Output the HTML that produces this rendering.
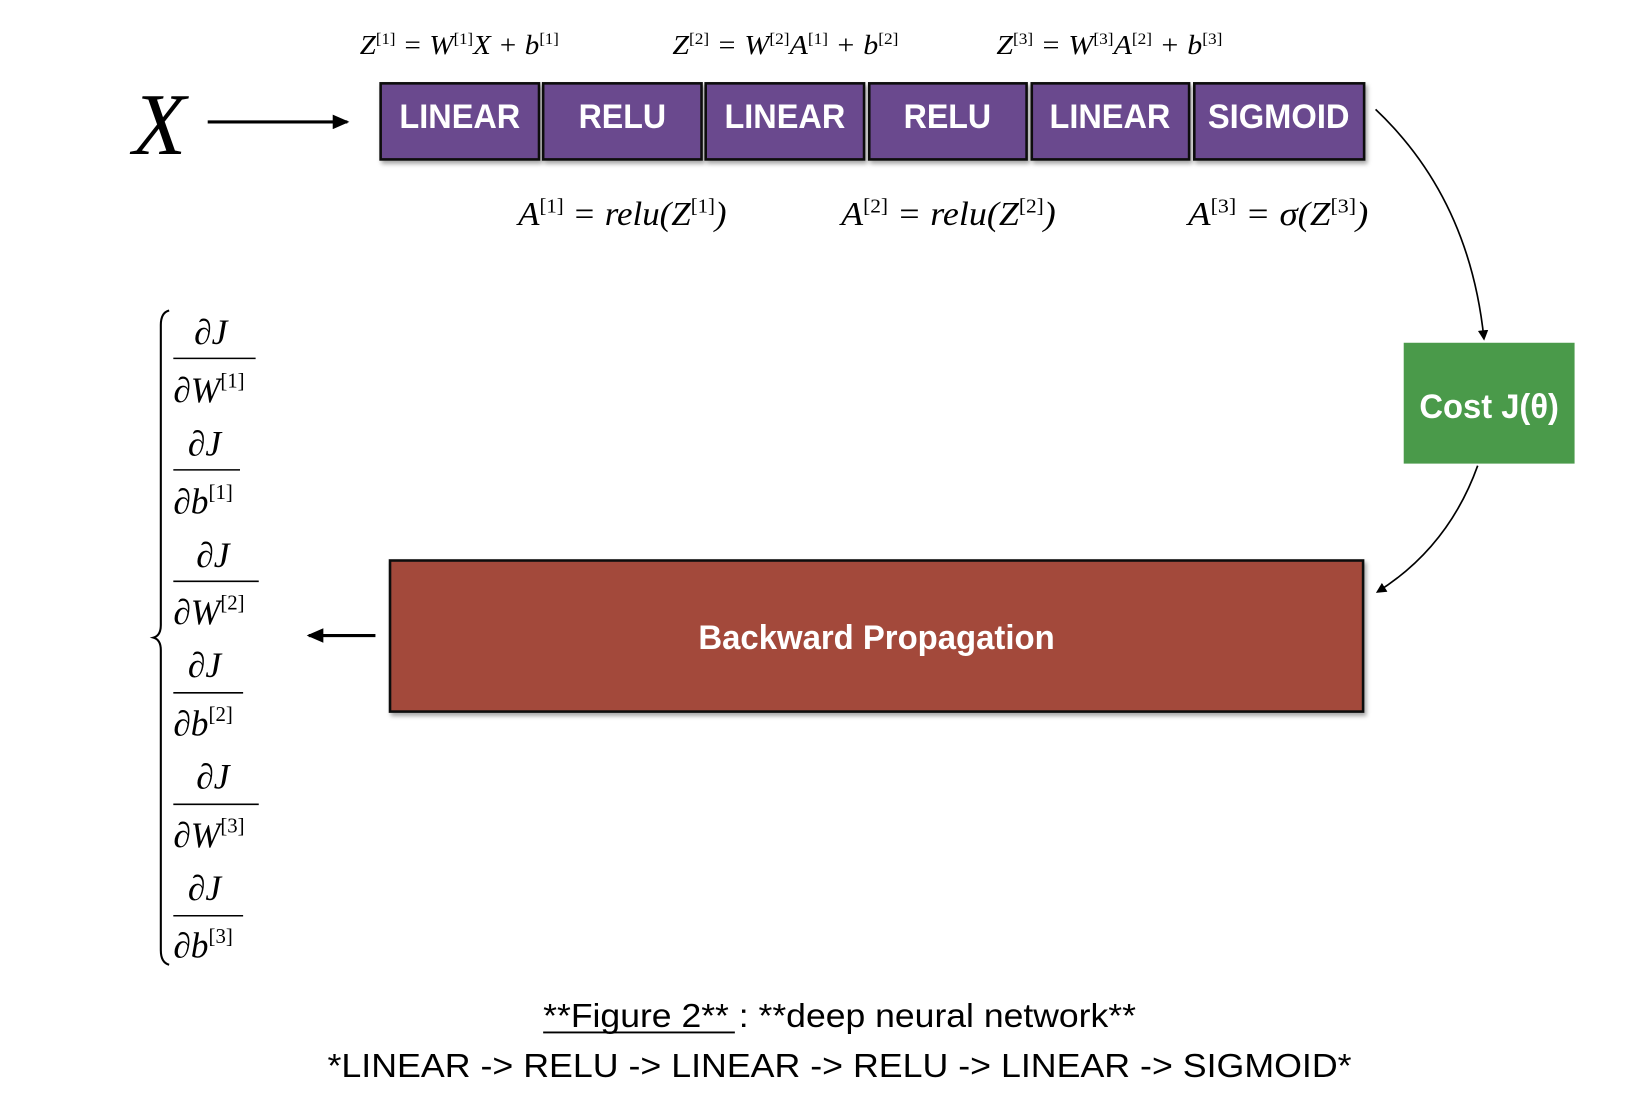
<!DOCTYPE html>
<html><head><meta charset="utf-8"><style>
html,body{margin:0;padding:0;background:#fff;width:1626px;height:1096px;overflow:hidden}
svg{display:block}
.m{font-family:"Liberation Serif",serif;font-style:italic;fill:#000}
.b{font-family:"Liberation Sans",sans-serif;font-weight:bold;fill:#fff}
.c{font-family:"Liberation Sans",sans-serif;fill:#000}
</style></head><body>
<svg width="1626" height="1096" viewBox="0 0 1560 1052">
<defs>
<marker id="ah" markerWidth="10" markerHeight="10" refX="8" refY="5" orient="auto" markerUnits="userSpaceOnUse"><path d="M0,0 L10,5 L0,10 Z" fill="#000"/></marker>
<marker id="ahb" markerWidth="16" markerHeight="14" refX="14" refY="7" orient="auto" markerUnits="userSpaceOnUse"><path d="M0,0 L16,7 L0,14 Z" fill="#000"/></marker>
<filter id="sh" x="-5%" y="-5%" width="115%" height="130%"><feDropShadow dx="2" dy="3" stdDeviation="2" flood-opacity="0.35"/></filter>
</defs>

<!-- input X -->
<text class="m" x="127" y="148" font-size="84">X</text>
<line x1="199" y1="117" x2="333" y2="117" stroke="#000" stroke-width="3" marker-end="url(#ahb)"/>

<!-- forward equations -->
<g><text class="m" x="345" y="52" font-size="26" textLength="191" lengthAdjust="spacingAndGlyphs">Z<tspan font-size="15" dy="-10" font-style="normal">[1]</tspan><tspan dy="10"> = W</tspan><tspan font-size="15" dy="-10" font-style="normal">[1]</tspan><tspan dy="10">X + b</tspan><tspan font-size="15" dy="-10" font-style="normal">[1]</tspan></text></g>
<g><text class="m" x="645" y="52" font-size="26" textLength="217" lengthAdjust="spacingAndGlyphs">Z<tspan font-size="15" dy="-10" font-style="normal">[2]</tspan><tspan dy="10"> = W</tspan><tspan font-size="15" dy="-10" font-style="normal">[2]</tspan><tspan dy="10">A</tspan><tspan font-size="15" dy="-10" font-style="normal">[1]</tspan><tspan dy="10"> + b</tspan><tspan font-size="15" dy="-10" font-style="normal">[2]</tspan></text></g>
<g><text class="m" x="956" y="52" font-size="26" textLength="217" lengthAdjust="spacingAndGlyphs">Z<tspan font-size="15" dy="-10" font-style="normal">[3]</tspan><tspan dy="10"> = W</tspan><tspan font-size="15" dy="-10" font-style="normal">[3]</tspan><tspan dy="10">A</tspan><tspan font-size="15" dy="-10" font-style="normal">[2]</tspan><tspan dy="10"> + b</tspan><tspan font-size="15" dy="-10" font-style="normal">[3]</tspan></text></g>

<!-- layer boxes -->
<g filter="url(#sh)">
<rect x="365" y="80" width="152" height="73" fill="#6b4a8e" stroke="#111" stroke-width="2.5"/>
<rect x="521" y="80" width="152" height="73" fill="#6b4a8e" stroke="#111" stroke-width="2.5"/>
<rect x="677" y="80" width="152" height="73" fill="#6b4a8e" stroke="#111" stroke-width="2.5"/>
<rect x="834" y="80" width="151" height="73" fill="#6b4a8e" stroke="#111" stroke-width="2.5"/>
<rect x="990" y="80" width="151" height="73" fill="#6b4a8e" stroke="#111" stroke-width="2.5"/>
<rect x="1146" y="80" width="163" height="73" fill="#6b4a8e" stroke="#111" stroke-width="2.5"/>
</g>
<g text-anchor="middle" font-size="33">
<text class="b" x="441" y="123" textLength="116" lengthAdjust="spacingAndGlyphs">LINEAR</text>
<text class="b" x="597" y="123" textLength="84" lengthAdjust="spacingAndGlyphs">RELU</text>
<text class="b" x="753" y="123" textLength="116" lengthAdjust="spacingAndGlyphs">LINEAR</text>
<text class="b" x="909" y="123" textLength="84" lengthAdjust="spacingAndGlyphs">RELU</text>
<text class="b" x="1065" y="123" textLength="116" lengthAdjust="spacingAndGlyphs">LINEAR</text>
<text class="b" x="1227" y="123" textLength="136" lengthAdjust="spacingAndGlyphs">SIGMOID</text>
</g>

<!-- activation equations -->
<g><text class="m" x="497" y="216" font-size="32" textLength="200" lengthAdjust="spacingAndGlyphs">A<tspan font-size="19" dy="-12" font-style="normal">[1]</tspan><tspan dy="12"> = relu(Z</tspan><tspan font-size="19" dy="-12" font-style="normal">[1]</tspan><tspan dy="12">)</tspan></text></g>
<g><text class="m" x="807" y="216" font-size="32" textLength="206" lengthAdjust="spacingAndGlyphs">A<tspan font-size="19" dy="-12" font-style="normal">[2]</tspan><tspan dy="12"> = relu(Z</tspan><tspan font-size="19" dy="-12" font-style="normal">[2]</tspan><tspan dy="12">)</tspan></text></g>
<g><text class="m" x="1140" y="216" font-size="32" textLength="173" lengthAdjust="spacingAndGlyphs">A<tspan font-size="19" dy="-12" font-style="normal">[3]</tspan><tspan dy="12"> = σ(Z</tspan><tspan font-size="19" dy="-12" font-style="normal">[3]</tspan><tspan dy="12">)</tspan></text></g>

<!-- arrows to/from cost -->
<path d="M1320,105 Q1410,190 1424,325" fill="none" stroke="#000" stroke-width="1.6" marker-end="url(#ah)"/>
<path d="M1418,447 Q1390,525 1322,568" fill="none" stroke="#000" stroke-width="1.6" marker-end="url(#ah)"/>

<!-- cost box -->
<rect x="1347" y="329" width="164" height="116" fill="#4a9a4a"/>
<text class="b" x="1429" y="401" font-size="33" text-anchor="middle" textLength="134" lengthAdjust="spacingAndGlyphs">Cost J(θ)</text>

<!-- backward propagation -->
<rect x="374" y="538" width="934" height="145" fill="#a34a3b" stroke="#111" stroke-width="2.5" filter="url(#sh)"/>
<text class="b" x="841" y="623" font-size="33" text-anchor="middle" textLength="342" lengthAdjust="spacingAndGlyphs">Backward Propagation</text>
<line x1="360" y1="610" x2="296" y2="610" stroke="#000" stroke-width="3" marker-end="url(#ahb)"/>

<!-- brace -->
<path d="M162,298 Q154,300 154,312 L154,600 Q154,610 147,612 Q154,614 154,624 L154,912 Q154,924 162,926" fill="none" stroke="#000" stroke-width="2"/>

<!-- gradients -->
<g class="m" font-size="34">
<text x="186" y="330">∂J</text><line x1="166" y1="344" x2="245" y2="344" stroke="#000" stroke-width="1.5"/><text x="166" y="386">∂W<tspan font-size="20" dy="-14" font-style="normal">[1]</tspan></text>
<text x="180" y="437">∂J</text><line x1="166" y1="451" x2="230" y2="451" stroke="#000" stroke-width="1.5"/><text x="166" y="493">∂b<tspan font-size="20" dy="-14" font-style="normal">[1]</tspan></text>
<text x="188" y="544">∂J</text><line x1="166" y1="558" x2="248" y2="558" stroke="#000" stroke-width="1.5"/><text x="166" y="599">∂W<tspan font-size="20" dy="-14" font-style="normal">[2]</tspan></text>
<text x="180" y="650">∂J</text><line x1="166" y1="665" x2="233" y2="665" stroke="#000" stroke-width="1.5"/><text x="166" y="706">∂b<tspan font-size="20" dy="-14" font-style="normal">[2]</tspan></text>
<text x="188" y="757">∂J</text><line x1="166" y1="772" x2="248" y2="772" stroke="#000" stroke-width="1.5"/><text x="166" y="813">∂W<tspan font-size="20" dy="-14" font-style="normal">[3]</tspan></text>
<text x="180" y="864">∂J</text><line x1="166" y1="879" x2="233" y2="879" stroke="#000" stroke-width="1.5"/><text x="166" y="919">∂b<tspan font-size="20" dy="-14" font-style="normal">[3]</tspan></text>
</g>

<!-- caption -->
<text class="c" x="521" y="986" font-size="32" textLength="569" lengthAdjust="spacingAndGlyphs">**Figure 2** : **deep neural network**</text>
<line x1="521" y1="991" x2="705" y2="991" stroke="#000" stroke-width="1.8"/>
<text class="c" x="314" y="1034" font-size="32" textLength="983" lengthAdjust="spacingAndGlyphs">*LINEAR -&gt; RELU -&gt; LINEAR -&gt; RELU -&gt; LINEAR -&gt; SIGMOID*</text>
</svg>
</body></html>
